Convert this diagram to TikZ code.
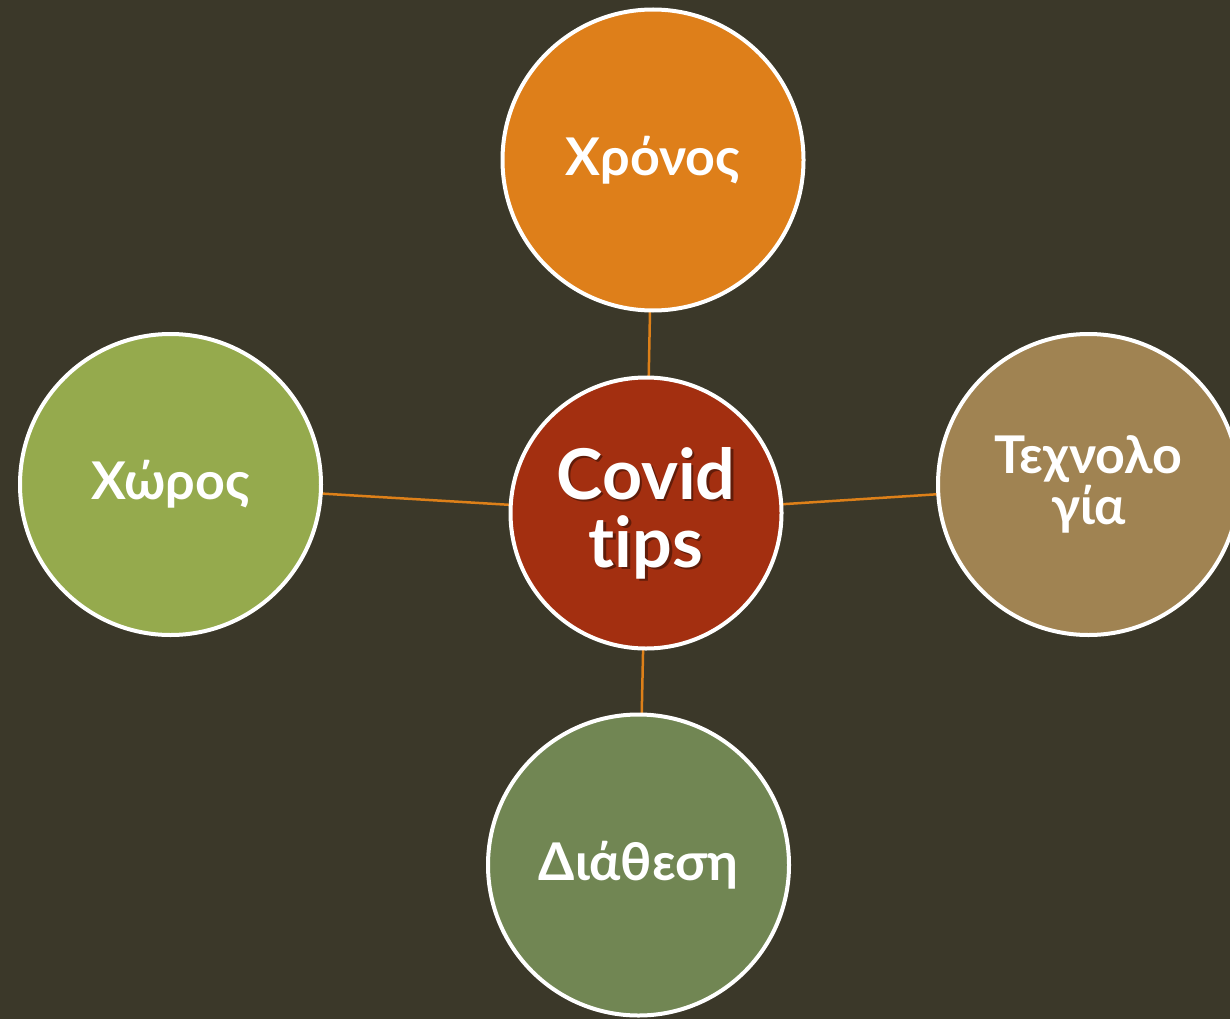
\documentclass[tikz,border=0pt]{standalone}
\usepackage{fontspec}
\setmainfont{Lato}[UprightFont=* Bold,Ligatures={NoCommon}]
\definecolor{bgc}{HTML}{3B3829}
\definecolor{orangec}{HTML}{DE7F1A}
\definecolor{redc}{HTML}{A32F10}
\definecolor{greenc}{HTML}{95AA4D}
\definecolor{tanc}{HTML}{A08352}
\definecolor{dgreenc}{HTML}{718653}
\definecolor{linec}{HTML}{DD8019}
\begin{document}
\begin{tikzpicture}[x=1pt,y=-1pt,
  bubble/.style={circle,draw=white,line width=4pt,minimum size=301pt,inner sep=0pt,text=white,align=center,font=\fontsize{52}{51}\selectfont},
  covidtext/.style={align=center,font=\fontsize{70}{68}\selectfont},
  link/.style={draw=linec,line width=2.5pt}]
\useasboundingbox (0,0) rectangle (1230,1019);
\fill[bgc] (0,0) rectangle (1230,1019);
\begin{scope}
\clip (0,0) rectangle (1230,1019);
\coordinate (pT) at (653,160);
\coordinate (pC) at (646,513);
\coordinate (pL) at (170.5,484.5);
\coordinate (pR) at (1088.5,484.5);
\coordinate (pB) at (638.5,865);
\draw[link] (pT) -- (pC) (pL) -- (pC) (pR) -- (pC) (pB) -- (pC);
\node[bubble,fill=orangec] (top) at (pT) {Χρόνος};
\node[bubble,fill=greenc] (left) at (pL) {Χώρος};
\node[bubble,fill=tanc] (right) at (pR) {Τεχνολο\\γία};
\node[bubble,fill=dgreenc] (bottom) at (pB) {Διάθεση};
\node[bubble,fill=redc,minimum size=271pt] (center) at (pC) {};
\node[covidtext,text=black,opacity=0.4] (csh) at ([shift={(2.5,2.5)}]pC) {Covid\\tips};
\node[covidtext,text=white] (ctext) at (pC) {Covid\\tips};
\end{scope}
\end{tikzpicture}
\end{document}
